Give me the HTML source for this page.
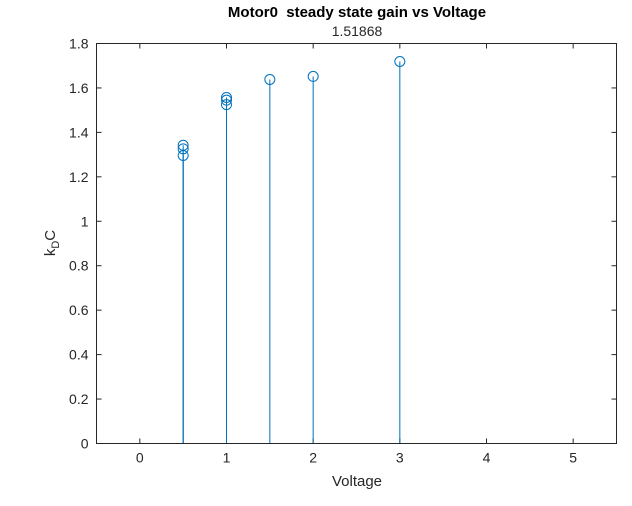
<!DOCTYPE html>
<html><head><meta charset="utf-8"><style>
body{margin:0;background:#fff;font-family:"Liberation Sans",sans-serif;}
</style></head><body>
<svg width="632" height="501" xmlns="http://www.w3.org/2000/svg">
<rect width="632" height="501" fill="#fff"/>
<g id="grid"></g>
<text x="357" y="17" text-anchor="middle" font-size="15" font-weight="bold" fill="#000" style="white-space:pre">Motor0  steady state gain vs Voltage</text>
<text x="357" y="36" text-anchor="middle" font-size="14" fill="#262626">1.51868</text>
<text x="357" y="486" text-anchor="middle" font-size="15" fill="#262626">Voltage</text>
<text transform="translate(55,243) rotate(-90)" text-anchor="middle" font-size="15" fill="#262626">k<tspan font-size="11" dy="4">D</tspan><tspan dy="-4">C</tspan></text>
<g id="marks"></g>
<rect x="96.5" y="43.5" width="520" height="400" fill="none" stroke="#262626" stroke-width="1"/>
</svg>
<script>
const xVals=[0.5,0.5,0.5,1,1,1,1.5,2,3];
const yVals=[1.342,1.326,1.296,1.557,1.545,1.525,1.638,1.652,1.719];
const xTicks=[0,1,2,3,4,5];
const yTicks=[0,0.2,0.4,0.6,0.8,1,1.2,1.4,1.6,1.8];
const L=96.5,R=616.5,T=43.5,B=443.5;
const sx=v=>L+(v+0.5)/6*(R-L);
const sy=v=>B-v/1.8*(B-T);
const NS="http://www.w3.org/2000/svg";
const g=document.getElementById('grid'),m=document.getElementById('marks');
function mk(p,tag,a){const e=document.createElementNS(NS,tag);for(const k in a)e.setAttribute(k,a[k]);p.appendChild(e);return e;}
xTicks.forEach(t=>{const x=sx(t);
 const l=mk(g,'line',{x1:x,x2:x,y1:B,y2:B-5,stroke:'#262626'});
 
 
 const l2=mk(g,'line',{x1:x,x2:x,y1:T,y2:T+5,stroke:'#262626'});
 
 
 const tx=mk(g,'text',{x:x,y:B+19,'text-anchor':'middle','font-size':14,fill:'#262626'});tx.textContent=t;
 
 });
yTicks.forEach(t=>{const y=sy(t);
 const l=mk(g,'line',{x1:L,x2:L+5,y1:y,y2:y,stroke:'#262626'});
 
 
 const l2=mk(g,'line',{x1:R,x2:R-5,y1:y,y2:y,stroke:'#262626'});
 
 
 const tx=mk(g,'text',{x:L-8,y:y+5,'text-anchor':'end','font-size':14,fill:'#262626'});tx.textContent=Math.round(t*10)/10;
 
 });
xVals.forEach((xv,i)=>{const x=sx(xv),y=sy(yVals[i]);
 const s=mk(m,'line',{x1:x,x2:x,y1:sy(0),y2:y,stroke:'#0072BD','stroke-width':1});
 
 
 const c=mk(m,'circle',{cx:x,cy:y,r:5,fill:'none',stroke:'#0072BD','stroke-width':1});
 
 });
</script>
</body></html>
